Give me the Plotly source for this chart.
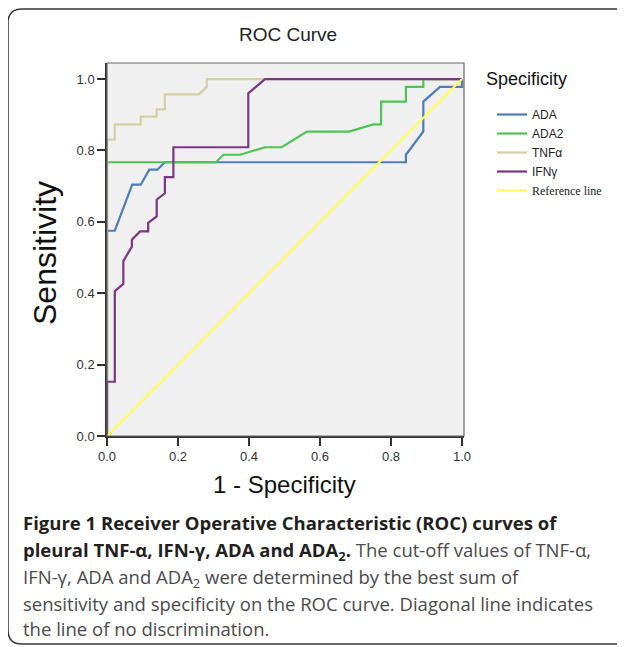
import plotly.graph_objects as go

# ---- data ----
ada_x = [0, 0, 0.022, 0.071, 0.095, 0.119, 0.142, 0.163, 0.842, 0.842, 0.891, 0.891, 0.938, 1.0, 1.0]
ada_y = [0, 0.575, 0.575, 0.704, 0.704, 0.746, 0.746, 0.767, 0.767, 0.788, 0.853, 0.937, 0.978, 0.978, 1.0]

ada2_x = [0, 0, 0.307, 0.328, 0.375, 0.445, 0.492, 0.563, 0.682, 0.75, 0.772, 0.772, 0.842, 0.842, 0.891, 0.891, 1.0]
ada2_y = [0, 0.767, 0.767, 0.788, 0.788, 0.809, 0.809, 0.853, 0.853, 0.873, 0.873, 0.937, 0.937, 0.978, 0.978, 1.0, 1.0]

tnf_x = [0, 0, 0.022, 0.022, 0.095, 0.095, 0.14, 0.14, 0.163, 0.163, 0.259, 0.281, 0.281, 1.0]
tnf_y = [0, 0.83, 0.83, 0.873, 0.873, 0.895, 0.895, 0.915, 0.915, 0.957, 0.957, 0.978, 1.0, 1.0]

ifn_x = [0, 0, 0.022, 0.022, 0.046, 0.046, 0.065, 0.07, 0.07, 0.093, 0.116, 0.116, 0.14, 0.14,
         0.163, 0.163, 0.187, 0.187, 0.398, 0.398, 0.445, 1.0]
ifn_y = [0, 0.152, 0.152, 0.406, 0.426, 0.49, 0.522, 0.53, 0.55, 0.573, 0.573, 0.597, 0.615, 0.662,
         0.68, 0.725, 0.725, 0.809, 0.809, 0.96, 1.0, 1.0]

ref_x = [0, 1]
ref_y = [0, 1]

series_names = ["ADA", "ADA2", "TNFα", "IFNγ",
                '<span style="font-family:Liberation Serif, Times New Roman, serif">Reference line</span>']
series_colors = ["#4f7cba", "#4cc553", "#d3d0a6", "#7b3786", "#ffff55"]
series_x = [ada_x, ada2_x, tnf_x, ifn_x, ref_x]
series_y = [ada_y, ada2_y, tnf_y, ifn_y, ref_y]

x_ticks = [0.0, 0.2, 0.4, 0.6, 0.8, 1.0]
y_ticks = [0.0, 0.2, 0.4, 0.6, 0.8, 1.0]

caption_lines = [
    '<b>Figure 1 Receiver Operative Characteristic (ROC) curves of</b>',
    '<b>pleural TNF-α, IFN-γ, ADA and ADA<sub>2</sub>.</b><span style="color:#4a4a4a"> The cut-off values of TNF-α,</span>',
    '<span style="color:#4a4a4a">IFN-γ, ADA and ADA<sub>2</sub> were determined by the best sum of</span>',
    '<span style="color:#4a4a4a">sensitivity and specificity on the ROC curve. Diagonal line indicates</span>',
    '<span style="color:#4a4a4a">the line of no discrimination.</span>',
]

# ---- layout geometry (window pixels; the page body adds an 8px offset) ----
OFF = 8
W, H = 625 - OFF, 647 - OFF
L, R, T, B = 107, 464, 63, 436
PW, PH = R - L, B - T


def px(xp):
    return (xp - L) / PW


def py(yp):
    return (B - yp) / PH


fig = go.Figure()
for name, col, xs, ys in zip(series_names, series_colors, series_x, series_y):
    fig.add_trace(go.Scatter(x=xs, y=ys, mode="lines", name=name,
                             line=dict(color=col, width=2.2)))

axis_font = dict(family="Liberation Sans, Arial, sans-serif", size=13, color="#333333")

fig.update_layout(
    width=W, height=H,
    margin=dict(l=L - OFF, r=W + OFF - R, t=T - OFF, b=H + OFF - B),
    paper_bgcolor="white",
    plot_bgcolor="#f0f0f0",
    font=dict(family="Liberation Sans, Arial, sans-serif", color="#222222"),
    showlegend=True,
    legend=dict(x=px(492), y=py(100), xanchor="left", yanchor="top",
                font=dict(family="Liberation Sans, Arial, sans-serif", size=12, color="#222222"),
                bgcolor="rgba(0,0,0,0)", tracegroupgap=0, itemwidth=30),
    xaxis=dict(range=[0, 1.0056], tickvals=x_ticks, ticktext=[f"{v:.1f}" for v in x_ticks],
               showgrid=False, zeroline=False, showline=True, linecolor="#333333", linewidth=1.5,
               ticks="outside", ticklen=8, tickwidth=1.5, tickcolor="#333333", tickfont=axis_font),
    yaxis=dict(range=[0, 1.045], tickvals=y_ticks, ticktext=[f"{v:.1f}" for v in y_ticks],
               showgrid=False, zeroline=False, showline=True, linecolor="#333333", linewidth=1.5,
               ticks="outside", ticklen=8, tickwidth=1.5, tickcolor="#333333", tickfont=axis_font),
)

shapes = [
    # plot frame (top/right)
    dict(type="rect", xref="paper", yref="paper", x0=0, y0=0, x1=1, y1=1,
         line=dict(color="#666666", width=1.2), layer="above"),
    # outer rounded border
    dict(type="path", xref="paper", yref="paper",
         path=(f"M {px(640)} {py(9)} L {px(22)} {py(9)} Q {px(8)} {py(9)} {px(8)} {py(23)} "
               f"L {px(8)} {py(630)} Q {px(8)} {py(644)} {px(22)} {py(644)} L {px(640)} {py(644)}"),
         line=dict(color="#333333", width=1.5)),
]
fig.update_layout(shapes=shapes)

annotations = [
    dict(text="ROC Curve", x=px(288), y=py(35), xref="paper", yref="paper", showarrow=False,
         xanchor="center", yanchor="middle",
         font=dict(family="Liberation Sans, Arial, sans-serif", size=19, color="#222222")),
    dict(text="1 - Specificity", x=px(284), y=py(484), xref="paper", yref="paper", showarrow=False,
         xanchor="center", yanchor="middle",
         font=dict(family="Liberation Sans, Arial, sans-serif", size=24, color="#111111")),
    dict(text="Sensitivity", x=px(45), y=py(253), xref="paper", yref="paper", showarrow=False,
         xanchor="center", yanchor="middle", textangle=-90,
         font=dict(family="Liberation Sans, Arial, sans-serif", size=32, color="#111111")),
    dict(text="Specificity", x=px(484), y=py(79), xref="paper", yref="paper", showarrow=False,
         xanchor="left", yanchor="middle",
         font=dict(family="Liberation Sans, Arial, sans-serif", size=18, color="#111111")),
]
cap_top = [508, 535, 562, 589, 614]
for line, yy in zip(caption_lines, cap_top):
    annotations.append(dict(text=line, x=px(21), y=py(yy), xref="paper", yref="paper",
                            showarrow=False, xanchor="left", yanchor="top", align="left",
                            font=dict(family="Open Sans, sans-serif", size=18.5, color="#231f20")))
fig.update_layout(annotations=annotations)

fig.write_html("out.html")
